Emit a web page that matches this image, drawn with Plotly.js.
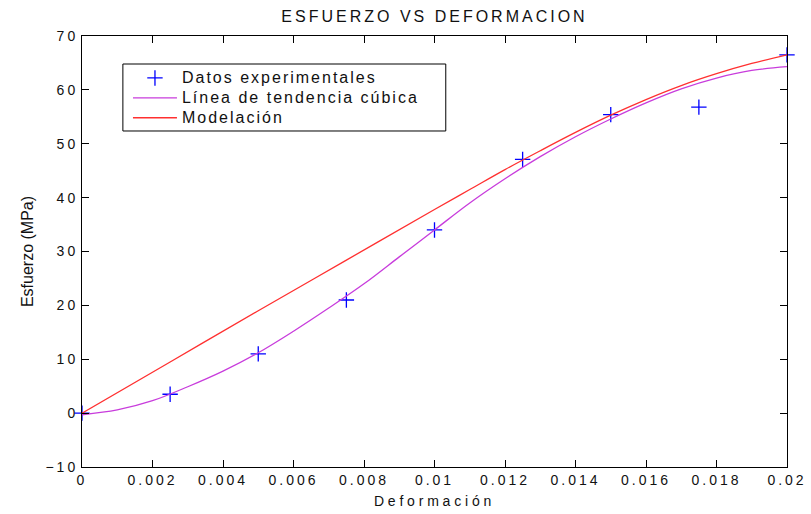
<!DOCTYPE html>
<html>
<head>
<meta charset="utf-8">
<script src="https://cdn.plot.ly/plotly-3.0.1.min.js"></script>
<style>
  html, body { margin: 0; padding: 0; background: #fff; }
  #chart { width: 811px; height: 514px; }
  .gtitle { letter-spacing: 3px; }
  .xtick text, .ytick text { letter-spacing: 3px; }
  .xtitle { letter-spacing: 3.8px; }
  .legendtext { font-size: 16px !important; letter-spacing: 2px; }
</style>
</head>
<body>
<div id="chart"></div>
<script>
// Experimental data
const deformacion = [0, 0.0025, 0.005, 0.0075, 0.01, 0.0125, 0.015, 0.0175, 0.02];
const esfuerzo = [0, 3.5, 11, 21, 34, 47.1, 55.4, 56.8, 66.5];

// Cubic trend line
const xTendencia = [0, 0.001, 0.002, 0.003, 0.004, 0.005, 0.006, 0.007, 0.008, 0.009, 0.01,
                    0.011, 0.012, 0.013, 0.014, 0.015, 0.016, 0.017, 0.018, 0.019, 0.02];
const yTendencia = [-0.3, 0.6, 2.3, 4.9, 7.8, 11.2, 15.2, 19.5, 24.0, 29.0, 34.0,
                    39.0, 43.5, 47.6, 51.3, 54.6, 57.6, 60.2, 62.2, 63.6, 64.3];

// Model curve
const xModelo = [0, 0.0025, 0.005, 0.0075, 0.01, 0.011, 0.012, 0.013, 0.014, 0.015,
                 0.016, 0.017, 0.018, 0.019, 0.02];
const yModelo = [0, 9.5, 19.0, 28.4, 37.8, 41.5, 45.2, 48.7, 52.1, 55.3,
                 58.2, 60.8, 63.0, 64.9, 66.5];

const xTicks = [0, 0.002, 0.004, 0.006, 0.008, 0.01, 0.012, 0.014, 0.016, 0.018, 0.02];
const xTickText = ['0', '0.002', '0.004', '0.006', '0.008', '0.01', '0.012', '0.014', '0.016', '0.018', '0.02'];
const yTicks = [-10, 0, 10, 20, 30, 40, 50, 60, 70];

const FONT = '"Liberation Sans", Arial, sans-serif';

const traces = [
  {
    x: deformacion, y: esfuerzo, mode: 'markers', type: 'scatter',
    name: 'Datos experimentales',
    marker: { symbol: 'cross-thin-open', size: 11, color: '#0000ff', line: { color: '#0000ff', width: 1.3 } },
    cliponaxis: false
  },
  {
    x: xTendencia, y: yTendencia, mode: 'lines', type: 'scatter',
    name: 'Línea de tendencia cúbica',
    line: { color: '#c83cdc', width: 1.3, shape: 'spline' }
  },
  {
    x: xModelo, y: yModelo, mode: 'lines', type: 'scatter',
    name: 'Modelación',
    line: { color: '#ff3030', width: 1.3, shape: 'spline' }
  }
];

const axisCommon = {
  showgrid: false, zeroline: false, showline: true, mirror: 'ticks',
  linecolor: '#000', linewidth: 1, ticks: 'inside', ticklen: 7, tickcolor: '#000', tickwidth: 1,
  tickfont: { family: FONT, size: 14, color: '#111' }
};

const layout = {
  width: 811, height: 514,
  margin: { l: 82, r: 24, t: 36, b: 47 },
  paper_bgcolor: '#fff', plot_bgcolor: '#fff',
  font: { family: FONT, color: '#111' },
  title: { text: 'ESFUERZO VS DEFORMACION', font: { family: FONT, size: 16, color: '#111' },
           x: 0.5, xref: 'paper', y: 0.968, yanchor: 'middle' },
  xaxis: Object.assign({}, axisCommon, {
    range: [0, 0.02], tickvals: xTicks, ticktext: xTickText, tickangle: 0,
    title: { text: 'Deformación', font: { family: FONT, size: 14, color: '#111' }, standoff: 9 }
  }),
  yaxis: Object.assign({}, axisCommon, {
    range: [-10, 70], tickvals: yTicks,
    title: { text: 'Esfuerzo (MPa)', font: { family: FONT, size: 16, color: '#111' }, standoff: 7 }
  }),
  showlegend: true,
  legend: {
    x: 0.0652, y: 0.9374, xanchor: 'left', yanchor: 'top',
    bgcolor: 'rgba(0,0,0,0)', borderwidth: 0, itemwidth: 44,
    font: { family: FONT, size: 13, color: '#111' }
  },
  shapes: [
    { type: 'rect', xref: 'paper', yref: 'paper', x0: 0.058, x1: 0.516, y0: 0.7796, y1: 0.935,
      line: { color: '#000', width: 1 }, fillcolor: 'rgba(0,0,0,0)', layer: 'above' }
  ]
};

Plotly.newPlot('chart', traces, layout, { displayModeBar: false, staticPlot: true });
</script>
</body>
</html>
